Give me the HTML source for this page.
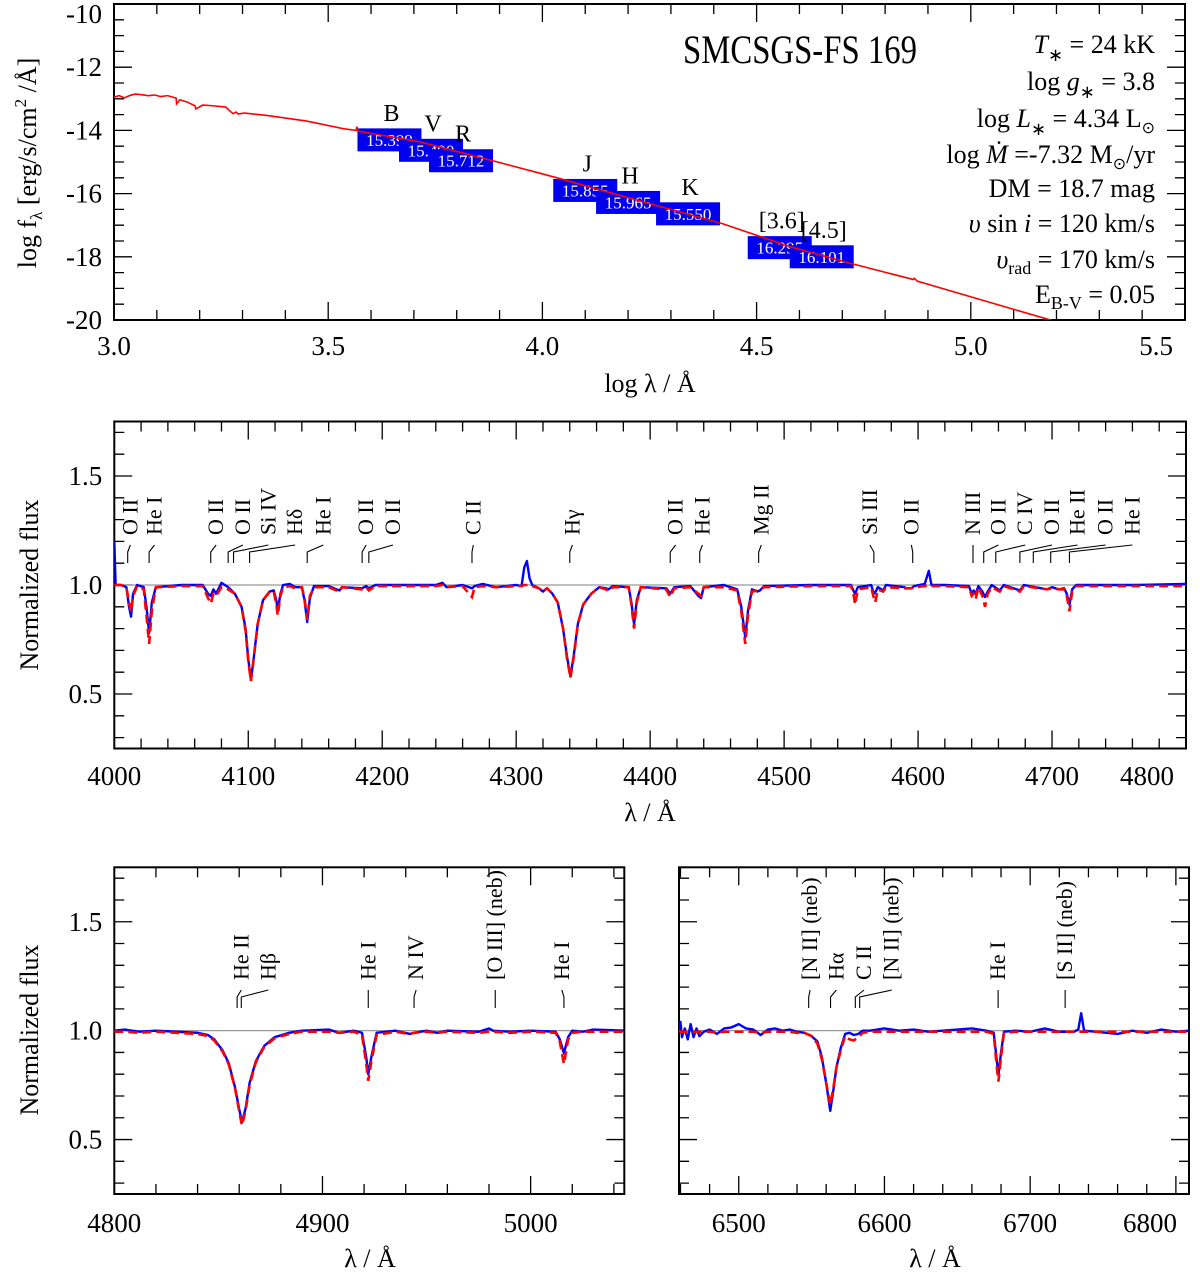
<!DOCTYPE html>
<html><head><meta charset="utf-8"><style>
html,body{margin:0;padding:0;background:#fff}
svg{display:block;font-family:"Liberation Serif",serif}
</style></head><body>
<svg id="fig" width="1200" height="1279" viewBox="0 0 1200 1279" xmlns="http://www.w3.org/2000/svg">
<defs>
<clipPath id="c1"><rect x="114" y="4" width="1071" height="316"/></clipPath>
<clipPath id="c2"><rect x="114.3" y="421.5" width="1071.7" height="327"/></clipPath>
<clipPath id="c3"><rect x="114.3" y="867.3" width="510" height="326.7"/></clipPath>
<clipPath id="c4"><rect x="679" y="867.3" width="510" height="326.7"/></clipPath>
</defs>
<text x="683" y="63" font-size="40" textLength="234" lengthAdjust="spacingAndGlyphs">SMCSGS-FS 169</text>
<g font-size="26" text-anchor="end">
<text x="1155" y="53"><tspan font-style="italic">T</tspan><tspan font-size="18" dy="8">∗</tspan><tspan dy="-8">  = 24 kK</tspan></text>
<text x="1155" y="90">log <tspan font-style="italic">g</tspan><tspan font-size="18" dy="8">∗</tspan><tspan dy="-8">  =  3.8</tspan></text>
<text x="1155" y="127">log <tspan font-style="italic">L</tspan><tspan font-size="18" dy="8">∗</tspan><tspan dy="-8">  = 4.34 L</tspan><tspan font-size="16" dy="6">⊙</tspan></text>
<text x="1155" y="163">log <tspan font-style="italic">Ṁ</tspan>  =-7.32 M<tspan font-size="16" dy="6">⊙</tspan><tspan dy="-6">/yr</tspan></text>
<text x="1155" y="197">DM = 18.7 mag</text>
<text x="1155" y="232"><tspan font-style="italic">υ</tspan> sin <tspan font-style="italic">i</tspan> = 120 km/s</text>
<text x="1155" y="268"><tspan font-style="italic">υ</tspan><tspan font-size="18" dy="6">rad</tspan><tspan dy="-6"> = 170 km/s</tspan></text>
<text x="1155" y="303">E<tspan font-size="18" dy="6">B-V</tspan><tspan dy="-6">  = 0.05</tspan></text>
</g>
<text font-size="26" transform="translate(36,163) rotate(-90)" text-anchor="middle">log f<tspan font-size="17" dy="6">λ</tspan><tspan dy="-6">  [erg/s/cm</tspan><tspan font-size="17" dy="-10">2</tspan><tspan dy="10"> /Å]</tspan></text>
<text font-size="26" x="650" y="392" text-anchor="middle">log λ / Å</text>
<text font-size="26" transform="translate(38,585) rotate(-90)" text-anchor="middle">Normalized flux</text>
<text font-size="26" x="650" y="821" text-anchor="middle">λ / Å</text>
<text font-size="26" transform="translate(38,1030) rotate(-90)" text-anchor="middle">Normalized flux</text>
<text font-size="26" x="370" y="1267" text-anchor="middle">λ / Å</text>
<text font-size="26" x="935" y="1267" text-anchor="middle">λ / Å</text>
</svg>
<script>
// ===== SED data =====
const sedLogLam=[3.0,3.012,3.024,3.038,3.05,3.064,3.08,3.095,3.109,3.125,3.145,3.146,3.154,3.17,3.189,3.191,3.207,3.23,3.261,3.27,3.278,3.285,3.29,3.305,3.359,3.448,3.537,3.565,3.567,3.569,3.716,3.895,4.029,4.134,4.42,4.58,4.723,4.866,4.868,4.875,5.188];
const sedLogF=[-12.95,-12.9,-12.97,-12.89,-12.85,-12.87,-12.9,-12.88,-12.93,-12.9,-12.98,-13.16,-13.03,-13.1,-13.22,-13.32,-13.2,-13.22,-13.26,-13.38,-13.47,-13.42,-13.48,-13.45,-13.53,-13.7,-13.95,-14.0,-13.88,-14.02,-14.37,-15.0,-15.48,-15.88,-16.95,-17.69,-18.22,-18.72,-18.68,-18.77,-20.01];
const bandNames=["B","V","R","J","H","K","[3.6]","[4.5]"];
const bandMags=["15.399","15.490","15.712","15.855","15.965","15.550","16.295","16.101"];
const bandLogLam=[3.643,3.74,3.81,4.1,4.2,4.34,4.554,4.652];
const bandLogF=[-14.3,-14.63,-14.96,-15.9,-16.28,-16.64,-17.71,-18.0];
const sedXTicks=[3.0,3.5,4.0,4.5,5.0,5.5];
const sedYTicks=[-20,-18,-16,-14,-12,-10];
// ===== Spectrum 4000-4800 =====
const p2Wave=[4000,4001,4005,4009,4011,4012.5,4014,4017,4022,4024,4026,4028,4031,4050,4066,4070,4072,4074,4076,4080,4085,4090,4095,4098,4100,4102,4104,4107,4111,4116,4119,4121,4122,4124,4126,4131,4135,4140,4142,4144,4146,4149,4160,4168,4170,4185,4188,4190,4195,4240,4245,4248,4260,4267,4269,4275,4285,4300,4304,4306,4308,4310,4312,4317,4320,4323,4327,4331,4335,4338,4340.5,4343,4346,4350,4356,4362,4367,4369,4372,4384,4386,4388,4390,4393,4412,4415,4418,4430,4436,4438,4440,4455,4465,4468,4471,4473,4476,4480,4482,4485,4520,4550,4552,4553,4555,4565,4567,4568,4570,4574,4576,4590,4591,4595,4597,4605,4608,4610,4620,4638,4640,4641.5,4643,4645,4648,4650,4652,4655,4661,4664,4676,4679,4696,4700,4705,4709,4711,4713,4715,4718,4760,4800,4825];
const p2Obs=[1.2,1.0,1.0,0.99,0.9,0.855,0.96,1.0,0.99,0.9,0.78,0.92,0.99,1.0,1.0,0.96,0.95,0.98,0.96,1.01,0.99,0.96,0.9,0.8,0.66,0.565,0.66,0.82,0.93,0.97,0.975,0.93,0.88,0.96,1.0,1.005,0.99,0.99,0.93,0.83,0.94,0.995,0.995,0.975,0.99,0.985,0.995,0.985,1.0,1.0,1.01,0.99,1.0,0.985,0.995,1.005,0.99,1.0,0.995,1.08,1.11,1.03,1.0,0.985,0.97,0.985,0.96,0.92,0.8,0.67,0.58,0.68,0.82,0.91,0.96,0.99,0.985,0.98,0.995,0.99,0.92,0.82,0.93,0.99,0.985,0.96,0.99,0.995,0.95,0.94,0.99,1.0,0.98,0.9,0.76,0.88,0.98,0.97,0.975,0.995,1.0,1.0,0.97,0.96,0.99,1.0,0.96,0.965,0.99,0.975,1.0,0.99,0.985,0.985,0.995,1.005,1.065,1.0,1.0,0.995,0.96,0.975,0.96,0.995,0.97,0.945,0.97,1.0,0.975,1.0,0.975,1.0,0.98,0.99,0.98,0.985,0.96,0.91,0.98,1.0,1.0,1.005,1.0];
const p2Mod=[1.0,1.0,1.0,0.99,0.92,0.875,0.95,0.995,0.98,0.86,0.73,0.88,0.99,0.995,0.995,0.94,0.915,0.96,0.95,0.99,0.98,0.96,0.9,0.79,0.65,0.56,0.66,0.82,0.93,0.97,0.97,0.91,0.86,0.95,0.99,0.995,0.985,0.99,0.94,0.84,0.95,0.99,0.99,0.97,0.99,0.98,0.99,0.975,0.995,0.995,1.0,0.99,0.995,0.945,0.99,0.995,0.99,0.995,0.995,1.0,1.0,1.0,0.995,0.985,0.97,0.985,0.96,0.92,0.8,0.66,0.575,0.67,0.82,0.91,0.96,0.99,0.98,0.97,0.99,0.99,0.91,0.8,0.92,0.99,0.98,0.945,0.985,0.99,0.96,0.95,0.99,0.99,0.975,0.88,0.73,0.86,0.97,0.975,0.98,0.99,0.995,0.995,0.95,0.91,0.98,0.99,0.94,0.92,0.98,0.97,0.99,0.985,0.985,0.985,0.99,0.995,1.0,0.995,0.995,0.99,0.95,0.96,0.935,0.99,0.95,0.9,0.96,0.99,0.97,0.995,0.97,0.995,0.98,0.985,0.98,0.98,0.95,0.88,0.97,0.995,0.995,0.995,0.995];
const p2XTicks=[4000,4100,4200,4300,4400,4500,4600,4700,4800];
const p2YTicks=[0.5,1.0,1.5];
const p2Labels=["O II","He I","O II","O II","Si IV","Hδ","He I","O II","O II","C II","Hγ","O II","He I","Mg II","Si III","O II","N III","O II","C IV","O II","He II","O II","He I"];
const p2LabelLam=[4012,4030,4076,4096,4115,4135,4156,4188,4208,4268,4342,4419,4439,4483,4564,4595,4641,4660,4680,4700,4719,4740,4760];
const p2LineLam=[4010,4026,4072,4085,4089,4101,4144,4185,4190,4267,4340,4415,4437,4481,4567,4596,4641,4649,4658,4676,4686,4699,4713];
// ===== Hbeta region =====
const p3Wave=[4800,4805,4812,4820,4830,4840,4845,4848,4852,4855,4858,4860,4861.3,4863,4865,4868,4872,4877,4884,4890,4903,4908,4915,4919,4921,4922,4923.5,4926,4935,4942,4944,4950,4955,4960,4975,4980,4982,4990,5000,5012,5014,5016,5018,5020,5025,5030,5046];
const p3Obs=[1.0,1.005,0.995,1.0,0.995,0.99,0.98,0.96,0.91,0.85,0.74,0.64,0.58,0.64,0.76,0.86,0.93,0.97,0.99,1.0,1.005,0.99,1.0,0.99,0.88,0.8,0.88,0.99,1.0,0.985,0.99,1.0,0.99,1.0,0.995,1.01,1.0,0.995,1.0,0.995,0.96,0.896,0.97,1.0,0.995,1.005,1.0];
const p3Mod=[0.995,0.995,0.99,0.995,0.99,0.985,0.975,0.955,0.905,0.845,0.735,0.63,0.565,0.63,0.75,0.855,0.925,0.965,0.985,0.995,0.995,0.99,0.995,0.98,0.85,0.77,0.86,0.98,0.995,0.985,0.99,0.995,0.99,0.995,0.99,0.995,0.995,0.99,0.995,0.99,0.95,0.847,0.96,0.99,0.995,0.995,0.995];
const p3XTicks=[4800,4900,5000];
const p3YTicks=[0.5,1.0,1.5];
const p3Labels=["He II","Hβ","He I","N IV","[O III] (neb)","He I"];
const p3LabelLam=[4861,4874,4922,4945,4983,5015];
const p3LineLam=[4859,4861,4922,4944,4983,5016];
// ===== Halpha region =====
const p4Wave=[6459,6460,6461,6463,6465,6467,6469,6471,6473,6476,6480,6485,6490,6495,6500,6505,6510,6515,6520,6525,6530,6535,6540,6545,6550,6554,6557,6560,6562.8,6565,6567,6570,6573,6576,6579,6582,6585,6590,6600,6610,6620,6630,6640,6650,6660,6670,6675,6677,6678.2,6680,6682,6690,6700,6710,6720,6730,6733,6735,6737,6745,6760,6770,6780,6790,6800,6810];
const p4Obs=[1.0,1.04,0.97,1.01,0.96,1.03,0.97,1.01,0.975,0.995,1.005,0.985,1.01,1.015,1.03,1.01,1.005,0.98,1.005,1.01,1.0,1.005,0.995,0.99,0.975,0.95,0.88,0.76,0.632,0.73,0.83,0.92,0.985,0.99,0.98,0.985,1.0,1.0,1.01,1.0,1.005,0.995,1.0,1.005,1.01,1.0,0.99,0.87,0.796,0.9,0.995,1.0,0.995,1.01,0.995,0.995,1.005,1.08,1.0,0.995,0.985,1.0,0.99,1.005,0.995,1.0];
const p4Mod=[1.0,0.995,0.995,0.995,0.995,0.995,0.995,0.995,0.995,0.995,0.995,0.99,0.995,0.995,0.995,0.995,0.995,0.99,0.995,0.995,0.995,0.995,0.99,0.99,0.975,0.94,0.87,0.76,0.66,0.74,0.83,0.91,0.975,0.96,0.955,0.97,0.99,0.995,0.995,0.995,0.995,0.995,0.995,0.995,0.995,0.995,0.985,0.84,0.766,0.88,0.99,0.995,0.995,0.995,0.995,0.995,0.995,0.995,0.995,0.995,0.995,0.995,0.995,0.995,0.995,0.995];
const p4XTicks=[6500,6600,6700,6800];
const p4YTicks=[];
const p4Labels=["[N II] (neb)","Hα","C II","[N II] (neb)","He I","[S II] (neb)"];
const p4LabelLam=[6549,6567,6586,6605,6678,6724];
const p4LineLam=[6548,6563,6580,6583,6678,6724];

const NS="http://www.w3.org/2000/svg";
const svg=document.getElementById('fig');
function mk(tag,attrs,parent){const e=document.createElementNS(NS,tag);for(const k in attrs)e.setAttribute(k,attrs[k]);(parent||svg).appendChild(e);return e;}
function scaler(a,b,c,d){return v=>c+(v-a)*(d-c)/(b-a);}

function frame(P,name,xMinor,xMajor,yMinor,yMajor,xt,yt,xfmt,yfmt,labY){
  const g=mk('g',{});
  
  
  const box=mk('rect',{x:P.x0,y:P.y0,width:P.x1-P.x0,height:P.y1-P.y0,fill:'none',stroke:'#000','stroke-width':2},g);
  
  
  let d='';
  const eps=1e-6;
  for(let v=Math.ceil(P.xmin/xMinor-eps)*xMinor; v<=P.xmax+eps; v+=xMinor){
    const x=P.sx(v); if(x<P.x0+1||x>P.x1-1) continue;
    const maj=Math.abs(v/xMajor-Math.round(v/xMajor))<1e-4; const L=maj?18:10;
    d+=`M${x},${P.y1}v${-L}M${x},${P.y0}v${L}`;
  }
  for(let v=Math.ceil(P.ymin/yMinor-eps)*yMinor; v<=P.ymax+eps; v+=yMinor){
    const y=P.sy(v); if(y<P.y0+1||y>P.y1-1) continue;
    const maj=Math.abs(v/yMajor-Math.round(v/yMajor))<1e-4; const L=maj?18:10;
    d+=`M${P.x0},${y}h${L}M${P.x1},${y}h${-L}`;
  }
  const tk=mk('path',{d:d,stroke:'#000','stroke-width':1.3,fill:'none'},g);
  
  
  xt.forEach(v=>{
    let x=P.sx(v), anchor='middle';
    if(x+30>1196){x=P.x1-12;anchor='end';}
    const t=mk('text',{x:x,y:labY,'font-size':27,'text-anchor':anchor},g);
    t.textContent=xfmt(v);
    
    
  });
  yt.forEach(v=>{
    let y=P.sy(v); if(v===P.ymax) y+=10;
    const t=mk('text',{x:P.x0-12,y:y+9,'font-size':27,'text-anchor':'end'},g);
    t.textContent=yfmt(v);
    
    
  });
}
function lineD(P,xs,ys){return xs.map((x,i)=>(i?'L':'M')+P.sx(x).toFixed(2)+','+P.sy(ys[i]).toFixed(2)).join('');}

// ---- Panel 1 SED ----
const P1={x0:114,x1:1185,y0:4,y1:320,xmin:3.0,xmax:5.5,ymin:-20,ymax:-10};
P1.sx=scaler(P1.xmin,P1.xmax,P1.x0,P1.x1);P1.sy=scaler(P1.ymin,P1.ymax,P1.y1,P1.y0);
frame(P1,'sed',0.1,0.5,0.5,2,sedXTicks,sedYTicks,v=>v.toFixed(1),v=>String(v),355);
bandNames.forEach((n,i)=>{
  const cx=P1.sx(bandLogLam[i]),cy=P1.sy(bandLogF[i]);
  const r=mk('rect',{x:cx-32,y:cy-11.5,width:64,height:23,fill:'#0000ee'});
  
  
  const t=mk('text',{x:cx,y:cy+6,'font-size':17,fill:'#fff','text-anchor':'middle'});
  t.textContent=bandMags[i];
  
  
  const l=mk('text',{x:cx+2,y:cy-19,'font-size':24,'text-anchor':'middle'});
  l.textContent=n;
  
  
});
const sedLine=mk('path',{d:lineD(P1,sedLogLam,sedLogF),stroke:'#ff0000','stroke-width':1.6,fill:'none','clip-path':'url(#c1)'});



// ---- spectrum panels ----
function specPanel(P,name,clip,wave,obs,mod,xt,yt,labels,labLam,lineLam,textBottom,labY){
  P.sx=scaler(P.xmin,P.xmax,P.x0,P.x1);P.sy=scaler(P.ymin,P.ymax,P.y1,P.y0);
  frame(P,name,20,100,0.1,0.5,xt,yt,v=>String(v),v=>v.toFixed(1),labY);
  const ref=mk('line',{x1:P.x0,x2:P.x1,y1:P.sy(1),y2:P.sy(1),stroke:'#999','stroke-width':1.3});
  
  
  const ob=mk('path',{d:lineD(P,wave,obs),stroke:'#0000ff','stroke-width':2.4,fill:'none','stroke-linejoin':'round','clip-path':clip});
  
  
  const md=mk('path',{d:lineD(P,wave,mod),stroke:'#ff0000','stroke-width':2.6,fill:'none','stroke-dasharray':'9,5','clip-path':clip});
  
  
  labels.forEach((s,i)=>{
    const lx=P.sx(labLam[i]),ln=P.sx(lineLam[i]);
    const t=mk('text',{'font-size':22,transform:`translate(${lx+7},${textBottom}) rotate(-90)`});
    t.textContent=s;
    
    
    const m=mk('path',{d:`M${lx},${textBottom+10}L${ln},${textBottom+17}L${ln},${textBottom+28}`,stroke:'#000','stroke-width':1.1,fill:'none'});
    
    
  });
}
const P2={x0:114.3,x1:1186,y0:421.5,y1:748.5,xmin:4000,xmax:4800,ymin:0.25,ymax:1.75};
specPanel(P2,'blue-spectrum','url(#c2)',p2Wave,p2Obs,p2Mod,p2XTicks,p2YTicks,p2Labels,p2LabelLam,p2LineLam,535,785);
const P3={x0:114.3,x1:624.3,y0:867.3,y1:1194,xmin:4800,xmax:5045,ymin:0.25,ymax:1.75};
specPanel(P3,'hbeta-spectrum','url(#c3)',p3Wave,p3Obs,p3Mod,p3XTicks,p3YTicks,p3Labels,p3LabelLam,p3LineLam,980,1232);
const P4={x0:679,x1:1189,y0:867.3,y1:1194,xmin:6459,xmax:6809,ymin:0.25,ymax:1.75};
specPanel(P4,'halpha-spectrum','url(#c4)',p4Wave,p4Obs,p4Mod,p4XTicks,p4YTicks,p4Labels,p4LabelLam,p4LineLam,980,1232);
</script>
</body></html>
